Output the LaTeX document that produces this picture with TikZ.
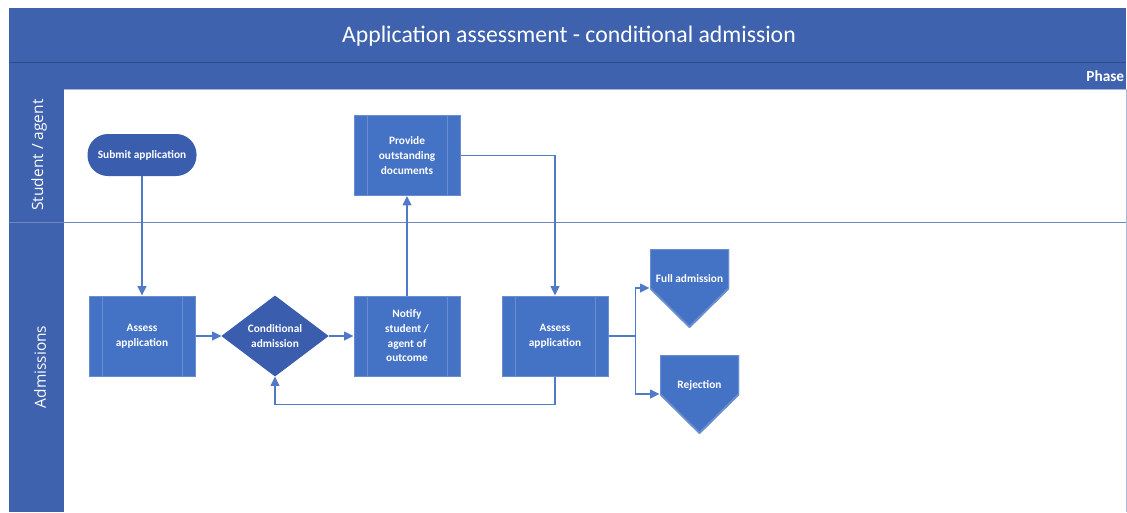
\documentclass[tikz,border=0pt]{standalone}
\usepackage{fontspec}
\setmainfont{Carlito}
\newfontfamily\lanefont{Open Sans}
\usetikzlibrary{arrows.meta,shapes.geometric,calc}

\definecolor{bandblue}{HTML}{3E62AD}
\definecolor{shapeblue}{HTML}{4472C4}
\definecolor{darkblue}{HTML}{3A5DAE}
\definecolor{edgeblue}{HTML}{6A8DD0}
\definecolor{flowblue}{HTML}{4F7AC7}
\definecolor{laneline}{HTML}{6F89BC}

\newcommand{\shapefont}{\bfseries\fontsize{8.5}{11}\selectfont}
\newcommand{\liftlabel}[1]{\raisebox{6.75pt}[\height][\depth]{#1}}

\tikzset{every picture/.style={line width=0.75pt}}
\tikzset{
	subproc/.style={draw=edgeblue, fill=shapeblue, text=white, align=center, font=\shapefont,
		minimum width=79.5pt, minimum height=60pt, inner sep=0pt,
		path picture={
			\draw[edgeblue] ([xshift=9.75pt]path picture bounding box.north west) -- ([xshift=9.75pt]path picture bounding box.south west);
			\draw[edgeblue] ([xshift=-9.75pt]path picture bounding box.north east) -- ([xshift=-9.75pt]path picture bounding box.south east);}},
	terminal/.style={rectangle, rounded corners=15pt, draw=darkblue, fill=darkblue, text=white, font=\shapefont,
		minimum width=81pt, minimum height=30.75pt, inner sep=0pt},
	decision/.style={diamond, aspect=1.33, draw=darkblue, fill=darkblue, text=white, align=center, font=\shapefont,
		minimum width=79.5pt, minimum height=60pt, inner sep=0pt},
	offpage/.style={rectangle, text=white, font=\shapefont,
		minimum width=59.25pt, minimum height=58.5pt, inner sep=0pt,
		path picture={
			\filldraw[fill=shapeblue, draw=edgeblue, line width=1.5pt] (path picture bounding box.north west) -- (path picture bounding box.north east)
				-- (path picture bounding box.east) -- (path picture bounding box.south) -- (path picture bounding box.west) -- cycle;}},
	flow/.style={draw=flowblue, line width=1.1pt, -{Triangle[length=7pt,width=6.5pt]}},
	link/.style={draw=flowblue, line width=1.1pt}}

\begin{document}
\begin{tikzpicture}[x=0.75pt,y=0.75pt,yscale=-1,xscale=1]
	\useasboundingbox (0,0) rectangle (1127,512);

	%Shape: Title and phase bands
	\fill[bandblue] (9,8) rectangle (1126,89);
	\draw[color=darkblue!80!black, line width=0.5pt] (9,62) -- (1126,62);
	\draw[color=laneline!60, line width=0.75pt] (9,89) -- (1126,89);
	%Shape: Lane header column
	\fill[bandblue] (9,89) rectangle (64,512);
	%Straight Lines: lane separator
	\draw[color=laneline] (9,222) -- (1126,222);
	%Straight Lines: right border
	\draw[color=laneline!60] (1126,89) -- (1126,512);

	% Text Node
	\node[text=white, font=\fontsize{17.8}{20}\selectfont] (title) at (569,36.5) {Application assessment - conditional admission};
	% Text Node
	\node[text=white, font=\bfseries\fontsize{11.5}{13}\selectfont, anchor=east, inner sep=1pt] (phase) at (1126,76) {Phase};
	% Text Node
	\node[text=white, font=\lanefont\fontsize{11.6}{13}\selectfont, rotate=90] (student) at (39,155) {Student / agent};
	% Text Node
	\node[text=white, font=\lanefont\fontsize{11.6}{13}\selectfont, rotate=90] (admissions) at (40,367) {Admissions};

	%Flowchart shapes
	\node[terminal] (submit) at (142,155) {Submit application};
	\node[subproc] (provide) at (407,155.5) {Provide\\outstanding\\documents};
	\node[subproc] (assessA) at (142,336) {Assess\\application};
	\node[decision] (cond) at (275,336) {Conditional\\admission};
	\node[subproc] (notify) at (407,336) {Notify\\student /\\agent of\\outcome};
	\node[subproc] (assessB) at (555,336) {Assess\\application};
	\node[offpage] (full) at (689.5,288) {\liftlabel{Full admission}};
	\node[offpage] (reject) at (699.5,394) {\liftlabel{Rejection}};

	%Connectors
	\draw[flow] (submit) -- (assessA);
	\draw[flow] (assessA) -- (cond);
	\draw[flow] (cond) -- (notify);
	\draw[flow] (notify) -- (provide);
	\draw[flow] (provide.east) -| (assessB.north);
	\coordinate (fork) at ($(assessB.east)+(27,0)$);
	\draw[link] (assessB.east) -- (fork);
	\draw[flow] (fork) |- (full.west);
	\draw[flow] (fork) |- (reject.west);
	\draw[flow] (assessB.south) -- ++(0,28) -| (cond.south);

\end{tikzpicture}
\end{document}
